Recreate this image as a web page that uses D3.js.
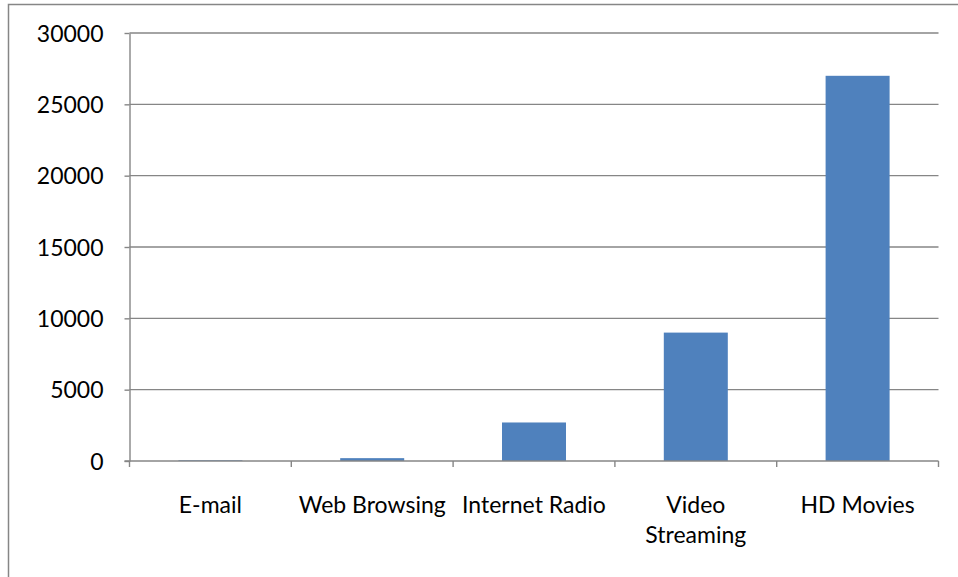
<!DOCTYPE html>
<html>
<head>
<meta charset="utf-8">
<script src="https://cdn.jsdelivr.net/npm/d3@7"></script>
<style>
  html, body { margin: 0; padding: 0; background: #ffffff; overflow: hidden; }
  svg { display: block; }
  text { font-family: Lato, "Noto Sans", sans-serif; fill: #000000; }
</style>
</head>
<body>
<svg id="chart" width="958" height="577"></svg>
<script>
// Bandwidth needed per application
const categories = ["E-mail", "Web Browsing", "Internet Radio", "Video Streaming", "HD Movies"];
const categoryLines = [["E-mail"], ["Web Browsing"], ["Internet Radio"], ["Video", "Streaming"], ["HD Movies"]];
const values = [50, 200, 2700, 9000, 27000];
const yTicks = [0, 5000, 10000, 15000, 20000, 25000, 30000];

const svg = d3.select("#chart");
const plot = { left: 129.5, right: 938.5, top: 33, bottom: 461 };
const gridColor = "#868686";
const barColor = "#4F81BD";

// Chart frame (runs past the window on the right and bottom)
svg.append("rect")
  .attr("x", 8.5).attr("y", 4.5)
  .attr("width", 1000).attr("height", 700)
  .attr("fill", "#ffffff")
  .attr("stroke", gridColor).attr("stroke-width", 1.5);

const x = d3.scaleBand().domain(categories).range([plot.left, plot.right]).paddingInner(0).paddingOuter(0);
const y = d3.scaleLinear().domain([0, 30000]).range([plot.bottom, plot.top]);

// Horizontal gridlines
svg.append("g").selectAll("line").data(yTicks.filter(d => d > 0)).join("line")
  .attr("x1", plot.left).attr("x2", plot.right)
  .attr("y1", d => y(d)).attr("y2", d => y(d))
  .attr("stroke", gridColor).attr("stroke-width", 1.4);

// Y axis
const yAxis = svg.append("g")
  .attr("transform", `translate(${plot.left},0)`)
  .call(d3.axisLeft(y).tickValues(yTicks).tickSize(5).tickSizeOuter(0).tickPadding(21).tickFormat(d3.format("d")));
yAxis.select(".domain").attr("stroke", gridColor).attr("stroke-width", 1.4);
yAxis.selectAll(".tick line").attr("stroke", gridColor).attr("stroke-width", 1.4);
yAxis.selectAll(".tick text")
  .attr("font-family", "Lato, 'Noto Sans', sans-serif")
  .attr("font-size", 23).attr("fill", "#000").attr("dy", "0.35em");

// Bars
const barW = 64;
svg.append("g").selectAll("rect").data(categories).join("rect")
  .attr("x", (d) => x(d) + x.bandwidth() / 2 - barW / 2)
  .attr("width", barW)
  .attr("y", (d, i) => y(values[i]))
  .attr("height", (d, i) => y(0) - y(values[i]))
  .attr("fill", barColor);

// X axis with ticks on category boundaries
const xAxisG = svg.append("g").attr("transform", `translate(0,${plot.bottom})`);
xAxisG.append("line")
  .attr("x1", plot.left - 5).attr("x2", plot.right)
  .attr("stroke", gridColor).attr("stroke-width", 1.4);
const bounds = categories.map(c => x(c)).concat([plot.right]);
xAxisG.selectAll("line.tk").data(bounds).join("line")
  .attr("class", "tk")
  .attr("x1", d => d).attr("x2", d => d)
  .attr("y1", 0).attr("y2", 6)
  .attr("stroke", gridColor).attr("stroke-width", 1.4);

// Category labels
const labels = svg.append("g");
categories.forEach((c, i) => {
  const t = labels.append("text")
    .attr("x", x(c) + x.bandwidth() / 2)
    .attr("y", 513)
    .attr("text-anchor", "middle")
    .attr("font-size", 23);
  categoryLines[i].forEach((ln, j) => {
    t.append("tspan").attr("x", x(c) + x.bandwidth() / 2).attr("dy", j === 0 ? 0 : 30).text(ln);
  });
});
</script>
</body>
</html>
